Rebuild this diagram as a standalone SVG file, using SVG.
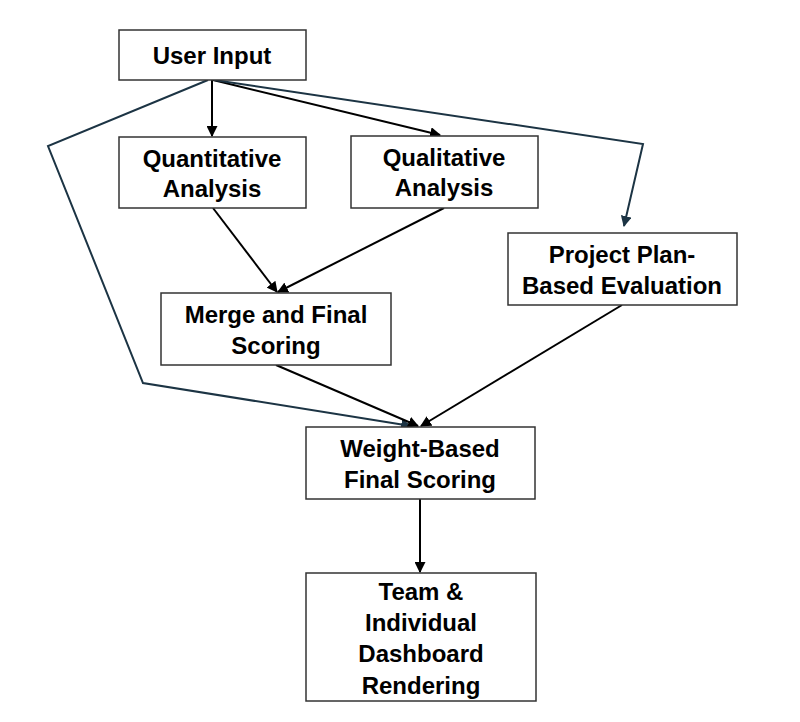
<svg xmlns="http://www.w3.org/2000/svg" width="800" height="722" viewBox="0 0 800 722">
<style>
.box{fill:#fff;stroke:#333;stroke-width:1.5}
.t{font-family:"Liberation Sans",Arial,sans-serif;font-weight:700;font-size:24px;fill:#000;text-anchor:middle;dominant-baseline:central}
.c{fill:none;stroke:#000;stroke-width:2}
.d{fill:none;stroke:#1c3444;stroke-width:2}
</style>
<defs>
<marker id="a" viewBox="0 0 10 10" refX="9" refY="5" markerWidth="5.5" markerHeight="5.5" orient="auto" markerUnits="strokeWidth"><path d="M0,0 L10,5 L0,10 Z" fill="#000"/></marker>
<marker id="b" viewBox="0 0 10 10" refX="9" refY="5" markerWidth="5.5" markerHeight="5.5" orient="auto" markerUnits="strokeWidth"><path d="M0,0 L10,5 L0,10 Z" fill="#1c3444"/></marker>
</defs>
<rect width="800" height="722" fill="#fff"/>
<g id="connectors">
<path class="c" d="M212,80 L212,136" marker-end="url(#a)"/>
<path class="c" d="M213,80 L440,135" marker-end="url(#a)"/>
<path class="d" d="M214,80 L643,144 L624,226" marker-end="url(#b)"/>
<path class="d" d="M208,80 L48,146 L143,383 L411,426" marker-end="url(#b)"/>
<path class="c" d="M213,208 L277,292" marker-end="url(#a)"/>
<path class="c" d="M444,208 L278,292" marker-end="url(#a)"/>
<path class="c" d="M276,365 L418,426" marker-end="url(#a)"/>
<path class="c" d="M622,305 L421,426" marker-end="url(#a)"/>
<path class="c" d="M420,499 L420,572" marker-end="url(#a)"/>
</g>
<g id="user-input"><rect class="box" x="119" y="30" width="187" height="50"/><text class="t" x="212" y="55">User Input</text></g>
<g id="quantitative"><rect class="box" x="119" y="137" width="187" height="71"/><text class="t" x="212" y="158">Quantitative</text><text class="t" x="212" y="188">Analysis</text></g>
<g id="qualitative"><rect class="box" x="351" y="136" width="187" height="72"/><text class="t" x="444" y="157">Qualitative</text><text class="t" x="444" y="187">Analysis</text></g>
<g id="project-plan"><rect class="box" x="508" y="233" width="229" height="72"/><text class="t" x="622" y="254">Project Plan-</text><text class="t" x="622" y="285">Based Evaluation</text></g>
<g id="merge"><rect class="box" x="161" y="293" width="230" height="72"/><text class="t" x="276" y="314">Merge and Final</text><text class="t" x="276" y="345">Scoring</text></g>
<g id="weight"><rect class="box" x="306" y="427" width="229" height="72"/><text class="t" x="420" y="448">Weight-Based</text><text class="t" x="420" y="479">Final Scoring</text></g>
<g id="dashboard"><rect class="box" x="306" y="573" width="230" height="128"/><text class="t" x="421" y="591">Team &amp;</text><text class="t" x="421" y="622">Individual</text><text class="t" x="421" y="653">Dashboard</text><text class="t" x="421" y="685">Rendering</text></g>
</svg>
